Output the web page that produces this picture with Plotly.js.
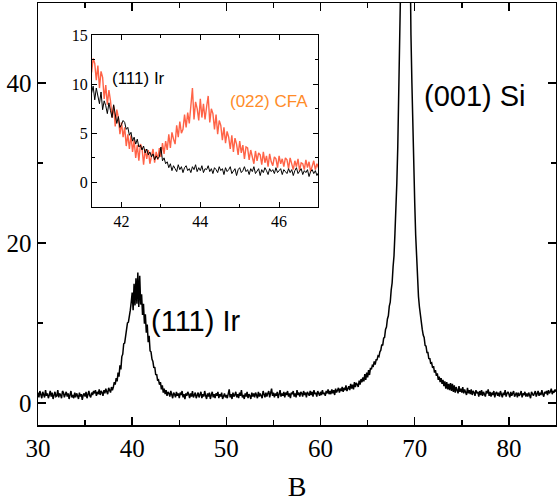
<!DOCTYPE html>
<html><head><meta charset="utf-8">
<script src="https://cdn.plot.ly/plotly-3.0.1.min.js"></script>
<style>html,body{margin:0;padding:0;background:#fff}#chart{width:557px;height:502px}</style>
</head><body><div id="chart"></div>
<script>
// Main scan: 2theta from 30 to 85, step 0.1
const mainStart = 30, mainStep = 0.1;
const mainIntensity = [
 1.3,0.7,1.5,0.9,0.6,1.4,1.1,0.7,1.6,0.9,
 1.2,0.6,1.0,1.5,0.8,1.3,0.5,1.1,1.4,0.8,
 0.9,1.6,0.7,1.2,1.0,0.6,1.5,1.3,0.7,1.1,
 1.4,0.8,1.2,0.5,1.1,1.5,0.7,1.0,0.6,1.3,
 0.7,1.2,0.9,0.5,1.3,0.8,1.1,0.4,1.0,1.2,
 0.8,1.4,0.6,1.1,1.5,0.9,0.7,1.3,1.0,1.5,
 1.2,1.6,0.9,1.4,1.1,1.7,1.0,1.5,1.3,0.9,
 1.6,1.2,1.8,1.4,1.1,1.9,1.5,1.3,2.0,1.6,
 2.0,2.6,2.3,3.1,2.7,3.8,3.3,4.7,4.2,5.8,
 6.1,7.4,7.5,8.6,8.9,10.0,10.1,11.3,11.6,12.6,
 13.8,11.6,14.9,12.2,15.6,12.4,16.3,12.0,15.9,12.3,
 13.6,11.0,12.4,9.9,11.1,8.8,9.8,7.6,8.4,6.5,
 6.4,5.5,5.2,4.4,4.5,3.5,3.6,2.8,2.9,2.3,
 2.6,1.7,2.2,1.3,1.8,1.1,1.6,0.9,1.4,1.2,
 0.8,1.5,1.0,0.6,1.3,1.1,0.7,1.4,0.9,1.2,
 0.6,1.3,1.0,1.5,0.7,1.1,0.5,1.2,0.9,1.4,
 1.1,0.6,1.2,0.8,1.5,0.7,1.0,1.3,0.6,0.9,
 1.3,0.7,1.0,1.4,0.6,1.1,0.8,1.5,0.9,0.5,
 1.2,0.8,1.3,0.5,1.0,1.4,0.7,1.1,0.6,1.2,
 0.9,1.4,0.6,1.1,0.8,1.3,0.5,1.0,1.2,0.7,
 1.0,0.6,1.2,1.7,0.7,1.1,0.5,1.3,0.8,1.0,
 1.4,0.7,1.1,0.6,1.3,0.9,1.6,0.7,1.0,0.5,
 1.2,0.8,1.4,0.6,1.1,0.9,0.5,1.3,0.8,1.2,
 0.7,1.3,1.0,0.6,1.4,0.8,1.2,0.9,0.6,1.5,
 1.0,0.7,1.3,0.8,1.2,1.5,0.7,1.1,1.8,0.9,
 1.3,0.7,1.2,0.9,1.4,0.6,1.1,1.6,0.8,1.2,
 0.9,1.4,0.7,1.3,1.0,1.5,0.8,1.2,0.6,1.3,
 1.1,1.5,0.8,1.2,0.7,1.6,1.0,1.3,0.8,1.4,
 1.2,0.8,1.5,1.0,1.3,0.7,1.4,1.1,0.9,1.5,
 1.0,1.4,0.8,1.6,1.1,1.3,0.8,1.5,1.2,0.9,
 1.4,1.0,1.6,1.1,1.3,0.9,1.5,1.2,1.7,1.1,
 1.5,1.1,1.7,1.2,1.6,1.0,1.8,1.3,1.6,1.9,
 1.3,1.8,1.5,2.0,1.4,1.9,1.6,2.2,1.5,1.9,
 2.1,1.6,2.4,1.8,2.3,1.7,2.6,2.0,2.5,2.3,
 2.0,2.8,2.3,3.0,2.6,3.2,2.7,3.6,2.9,3.8,
 3.2,4.1,3.5,4.4,4.2,4.7,4.6,5.2,4.8,5.4,
 5.4,5.9,5.8,6.4,6.6,7.3,7.2,8.1,8.2,9.2,
 9.5,10.5,10.9,12.1,12.6,14.1,15.0,17.0,18.4,21.2,
 24.0,27.5,32.0,37.5,44.0,52.0,61.0,70.0,79.0,86.0,
 90.0,92.0,88.0,80.0,68.0,55.0,46.0,40.0,34.0,29.0,
 25.0,21.0,18.0,15.5,13.3,12.0,10.8,10.0,9.2,8.5,
 8.2,7.2,7.1,6.3,6.3,5.5,5.6,4.9,5.0,4.4,
 4.6,3.8,4.1,3.4,3.7,2.9,3.3,2.6,3.1,2.4,
 2.9,2.1,2.7,1.8,2.6,1.7,2.4,1.6,2.5,1.5,
 2.4,1.4,2.2,1.3,2.0,1.6,1.2,2.1,1.4,1.8,
 1.3,2.0,1.2,1.7,1.4,1.0,1.9,1.2,1.6,1.1,
 1.7,1.0,1.5,1.3,0.9,1.6,1.2,1.4,0.8,1.5,
 1.0,1.6,0.9,1.4,1.1,0.8,1.5,1.2,1.7,0.9,
 1.4,0.8,1.3,1.0,1.5,0.7,1.2,1.4,0.9,1.3,
 0.8,1.5,1.1,0.7,1.3,1.0,1.6,0.8,1.2,1.4,
 1.1,0.7,1.4,0.9,1.2,1.5,0.8,1.1,1.3,0.7,
 1.3,0.9,1.1,1.5,0.7,1.2,1.0,1.4,0.8,1.2,
 0.8,1.3,1.0,0.6,1.4,1.1,0.9,1.2,1.5,0.8,
 1.2,1.5,0.9,1.3,1.0,1.6,1.1,0.8,1.4,1.2,
 1.5,1.0,1.6,1.2,1.4,1.8,1.1,1.5,1.3,1.7,
 1.4
];

// Inset scan: 2theta from 41.2, step 0.04
const insetStart = 41.2, insetStep = 0.04;
const insetIr = [
 10.3,9.1,9.8,8.4,9.6,8.9,8.0,9.2,7.4,8.3,7.8,7.0,8.1,7.3,6.6,7.9,6.9,6.0,6.7,5.6,5.9,6.3,6.1,5.4,5.6,
 4.8,5.1,4.2,4.6,3.9,4.4,3.6,3.8,3.3,3.7,3.0,3.4,2.8,3.1,2.6,2.9,2.3,2.7,2.4,2.6,3.6,2.2,2.5,1.9,2.1,
 1.5,1.9,1.2,1.7,1.4,1.1,1.8,1.3,1.6,1.0,1.5,1.7,1.2,1.4,1.0,1.6,1.3,1.8,1.1,1.5,1.2,1.7,1.0,1.4,1.3,
 1.7,1.1,1.4,0.9,1.5,1.3,1.0,1.6,1.2,1.4,0.8,1.5,1.1,1.3,1.6,0.9,1.2,1.4,0.7,1.3,1.5,1.0,1.2,1.6,1.1,
 1.3,0.8,1.4,1.1,1.6,0.9,1.2,1.4,0.7,1.3,1.0,1.5,1.2,0.8,1.4,1.1,1.3,0.9,1.5,1.0,1.2,1.4,0.8,1.3,1.1,
 0.9,1.4,1.0,1.3,0.7,1.2,1.5,0.9,1.1,1.4,0.8,1.2,1.0,1.3,0.6,1.1,1.3,0.9,1.2,0.7,1.0,1.3,0.8,1.1,1.0
];
const insetCFA = [
 13.0,11.2,12.6,12.1,10.4,11.9,9.6,11.3,10.7,8.5,9.9,7.9,9.4,8.3,6.6,7.8,5.7,7.4,6.6,4.9,6.1,4.6,5.6,3.7,4.9,
 3.4,4.8,3.1,4.3,2.5,3.8,2.2,3.9,3.5,1.8,3.4,2.4,3.3,1.9,2.8,3.4,2.0,3.1,2.3,3.5,2.6,4.0,2.9,4.2,3.3,
 4.9,3.5,5.1,4.4,3.9,5.8,4.6,6.2,5.0,5.4,6.9,5.6,7.1,6.0,7.8,9.6,6.4,8.2,7.5,6.3,8.5,6.6,8.0,6.4,7.7,
 8.8,6.1,7.5,7.0,5.4,6.9,4.9,6.3,5.8,4.3,5.6,4.0,5.2,4.6,3.4,4.8,3.1,4.5,3.9,2.8,4.2,3.0,3.8,2.4,3.6,
 3.5,2.3,3.3,2.4,1.9,3.2,2.2,3.0,2.8,1.8,3.1,2.0,2.7,1.6,2.9,2.1,1.7,2.6,2.4,1.5,2.7,1.9,2.4,1.6,2.5,
 2.3,1.4,2.5,1.8,1.3,2.2,1.6,2.4,1.2,2.0,1.9,1.3,2.3,1.5,2.1,1.1,1.8,2.2,1.3,1.9,1.5,2.1,1.0,1.8,1.6
];

const mainX = mainIntensity.map((_, i) => +(mainStart + i * mainStep).toFixed(2));
const insetX = insetIr.map((_, i) => +(insetStart + i * insetStep).toFixed(2));

const serif = 'Liberation Serif';
const sans = 'Liberation Sans';

const traces = [
  {x: mainX, y: mainIntensity, type: 'scatter', mode: 'lines', line: {color: '#000', width: 1.5}, xaxis: 'x', yaxis: 'y', hoverinfo: 'skip'},
  {x: insetX, y: insetCFA, type: 'scatter', mode: 'lines', line: {color: '#ff6347', width: 1.4}, xaxis: 'x2', yaxis: 'y2', hoverinfo: 'skip'},
  {x: insetX, y: insetIr, type: 'scatter', mode: 'lines', line: {color: '#000', width: 1}, xaxis: 'x2', yaxis: 'y2', hoverinfo: 'skip'}
];

const axisCommon = {showline: true, linecolor: '#000', linewidth: 1.5, mirror: 'ticks', ticks: 'inside',
  tickcolor: '#000', tickwidth: 1.5, showgrid: false, zeroline: false};

const layout = {
  width: 557, height: 502,
  margin: {l: 38, r: 1, t: 3, b: 77},
  paper_bgcolor: '#fff', plot_bgcolor: '#fff',
  font: {family: serif, size: 25, color: '#000'},
  showlegend: false,
  xaxis: Object.assign({}, axisCommon, {
    range: [30, 85], tick0: 0, dtick: 10, ticklen: 8,
    minor: {dtick: 5, ticks: 'inside', ticklen: 5, tickwidth: 1.5, tickcolor: '#000', showgrid: false},
    tickfont: {family: serif, size: 25, color: '#000'},
    title: {text: 'B', font: {family: serif, size: 28, color: '#000'}, standoff: 18}
  }),
  yaxis: Object.assign({}, axisCommon, {
    range: [-2.75, 50], tick0: 0, dtick: 20, ticklen: 8,
    minor: {dtick: 10, ticks: 'inside', ticklen: 5, tickwidth: 1.5, tickcolor: '#000', showgrid: false},
    tickfont: {family: serif, size: 25, color: '#000'}
  }),
  xaxis2: Object.assign({}, axisCommon, {
    anchor: 'y2', domain: [0.1042, 0.5415], range: [41.25, 47], tick0: 0, dtick: 2, ticklen: 5,
    linewidth: 1, tickwidth: 1,
    minor: {dtick: 1, ticks: 'inside', ticklen: 3, tickwidth: 1, tickcolor: '#000', showgrid: false},
    tickfont: {family: serif, size: 16, color: '#000'}
  }),
  yaxis2: Object.assign({}, axisCommon, {
    anchor: 'x2', domain: [0.5166, 0.9242], range: [-2.5, 15], tick0: 0, dtick: 5, ticklen: 5,
    linewidth: 1, tickwidth: 1,
    minor: {dtick: 2.5, ticks: 'inside', ticklen: 3, tickwidth: 1, tickcolor: '#000', showgrid: false},
    tickfont: {family: serif, size: 16, color: '#000'}
  }),
  annotations: [
    {xref: 'x', yref: 'y', x: 46.8, y: 10.2, text: '(111) Ir', showarrow: false, xanchor: 'center', yanchor: 'middle',
     font: {family: sans, size: 29, color: '#000'}},
    {xref: 'x', yref: 'y', x: 76.35, y: 38.4, text: '(001) Si', showarrow: false, xanchor: 'center', yanchor: 'middle',
     font: {family: sans, size: 29, color: '#000'}},
    {xref: 'x2', yref: 'y2', x: 42.43, y: 10.6, text: '(111) Ir', showarrow: false, xanchor: 'center', yanchor: 'middle',
     font: {family: sans, size: 17, color: '#000'}},
    {xref: 'x2', yref: 'y2', x: 45.74, y: 8.24, text: '(022) CFA', showarrow: false, xanchor: 'center', yanchor: 'middle',
     font: {family: sans, size: 17, color: '#ff8c28'}}
  ]
};

Plotly.newPlot('chart', traces, layout, {staticPlot: true, displayModeBar: false});
</script>
</body></html>
